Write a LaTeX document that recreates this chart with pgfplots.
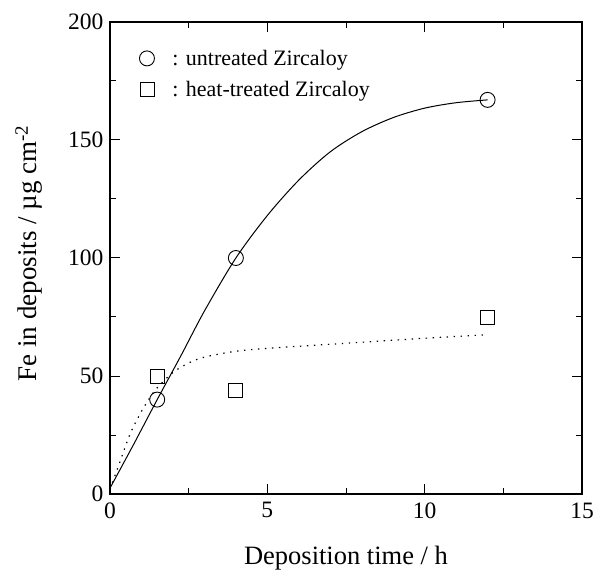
\documentclass[border=0pt]{standalone}
\usepackage{fontspec}
\setmainfont{Liberation Serif}
\usepackage{pgfplots}
\pgfplotsset{compat=1.18}

\begin{document}
\begin{tikzpicture}
\begin{axis}[
    width=472pt, height=472pt,
    scale only axis,
    xmin=0, xmax=15, ymin=0, ymax=200,
    xtick={0,5,10,15}, ytick={0,50,100,150,200},
    minor xtick={2.5,7.5,12.5}, minor ytick={25,75,125,175},
    tick align=inside, tick pos=both,
    major tick length=10pt, minor tick length=6pt,
    axis line style={line width=1.3pt},
    every tick/.style={black, line width=1pt},
    /pgf/number format/assume math mode=true,
    tick label style={font=\fontsize{23.5}{25}\selectfont},
    xticklabel style={yshift=-5pt},
    yticklabel style={xshift=-3pt},
    xlabel={Deposition time / h},
    ylabel={Fe in deposits / µg cm\textsuperscript{-2}},
    xlabel style={font=\fontsize{26.5}{28}\selectfont,
        at={(axis description cs:0.5,0)}, anchor=base, yshift=-70pt},
    ylabel style={font=\fontsize{27}{29}\selectfont,
        at={(axis description cs:-0.1547,0.51)}, anchor=base},
    legend style={at={(axis description cs:0.062,0.94)}, anchor=north west,
        draw=none, fill=none, inner sep=0pt,
        font=\fontsize{22}{24}\selectfont, row sep=14pt,
        nodes={inner sep=0pt},
        /tikz/every even column/.append style={column sep=0pt},
        /tikz/every odd column/.append style={column sep=18pt}},
    legend image code/.code={\draw[#1] plot coordinates {(0pt,0.5pt)};},
    legend cell align=left,
]
% fitted curves
\addplot[black, line width=1pt, smooth, forget plot] coordinates {
    (0,2.5) (0.75,21) (1.5,40) (2.25,58.5) (3,77.5) (4,100) (5,118) (6,133)
    (7,145) (8,153.5) (9,159.5) (10,163.5) (11,165.8) (12,167)
};
\addplot[black, line width=1.2pt, dash pattern=on 1.4pt off 5.6pt, smooth, forget plot] coordinates {
    (0,2) (0.3,13) (0.64,25.5) (1,35) (1.3,41.5) (1.5,45) (2,51.5) (2.5,55.5)
    (3,58) (4,60.5) (5,61.7) (6,62.6) (8,64.3) (10,66) (12,67.5)
};
% data
\addplot[only marks, mark=o, mark size=7.5pt, black, line width=0.9pt] coordinates {
    (1.5,40) (4,100) (12,167)
};
\addlegendentry{: untreated Zircaloy}
\addplot[only marks, mark=square, mark size=7pt, black, line width=0.9pt] coordinates {
    (1.5,50) (4,44) (12,75)
};
\addlegendentry{: heat-treated Zircaloy}
\end{axis}
\pgfresetboundingbox
\path ([shift={(-110pt,-76pt)}]current axis.south west)
    rectangle ([shift={(12pt,22pt)}]current axis.north east);
\end{tikzpicture}
\end{document}
